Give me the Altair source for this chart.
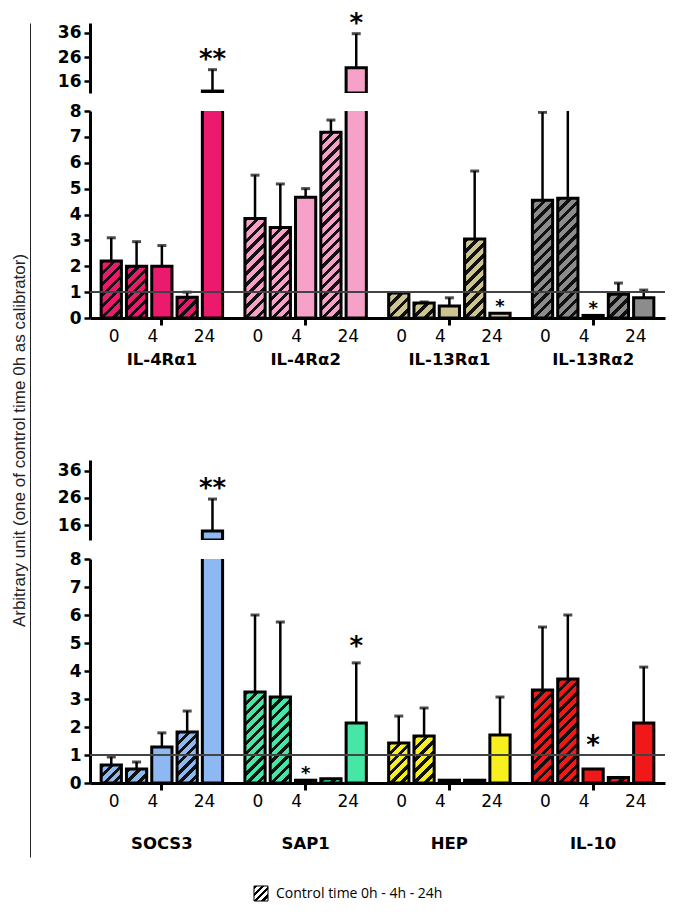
import altair as alt

# ---------------- data ----------------
SLOTS = ["0h ctrl", "4h ctrl", "4h", "24h ctrl", "24h"]
HATCHED = [True, True, False, True, False]

TOP_GROUPS = ["IL-4Rα1", "IL-4Rα2", "IL-13Rα1", "IL-13Rα2"]
TOP_COLORS = ["#EB1A6D", "#F6A2C8", "#CEC48F", "#8C8C8C"]
TOP_VALUES = [
    [2.2, 2.0, 2.0, 0.8, 12.0],
    [3.85, 3.5, 4.67, 7.18, 21.6],
    [0.97, 0.58, 0.46, 3.05, 0.18],
    [4.55, 4.63, 0.1, 0.92, 0.78],
]
TOP_ERR_TOP = [
    [3.1, 2.95, 2.8, 1.0, 20.8],
    [5.52, 5.18, 5.0, 7.65, 35.6],
    [None, 0.62, 0.78, 5.68, None],
    [7.95, 9.0, None, 1.35, 1.08],
]
TOP_SIG = [
    ["", "", "", "", "**"],
    ["", "", "", "", "*"],
    ["", "", "", "", "*"],
    ["", "", "*", "", ""],
]

BOT_GROUPS = ["SOCS3", "SAP1", "HEP", "IL-10"]
BOT_COLORS = ["#8DB8F2", "#45E6A6", "#F8F01E", "#F01818"]
BOT_VALUES = [
    [0.64, 0.5, 1.29, 1.82, 13.8],
    [3.25, 3.07, 0.1, 0.15, 2.14],
    [1.43, 1.68, 0.1, 0.1, 1.71],
    [3.32, 3.71, 0.5, 0.2, 2.14],
]
BOT_ERR_TOP = [
    [0.93, 0.75, 1.79, 2.57, 25.6],
    [6.0, 5.75, None, None, 4.29],
    [2.39, 2.68, None, None, 3.07],
    [5.57, 6.0, None, None, 4.14],
]
BOT_SIG = [
    ["", "", "", "", "**"],
    ["", "", "*", "", "*"],
    ["", "", "", "", ""],
    ["", "", "*", "", ""],
]

TIME_TICKS = [("0", "0h ctrl", 3), ("4", "4h", -9), ("24", "24h", -8)]
Y_TITLE = "Arbitrary unit (one of control time 0h as calibrator)"
LEGEND_TEXT = "Control time 0h - 4h - 24h"

# ---------------- layout ----------------
W = 575
PAD_IN, PAD_OUT = 0.12, 0.06
OFF_IN, OFF_OUT = 0.2, 0.1
step = W / (len(TOP_GROUPS) - PAD_IN + 2 * PAD_OUT)
band = step * (1 - PAD_IN)
step2 = band / (len(SLOTS) - OFF_IN + 2 * OFF_OUT)
BAR_W = step2 * (1 - OFF_IN)
EXT = 36
FONT = "DejaVu Sans"


def hatch(color, w, h, period, ink="#111111", frac=0.42):
    h = max(float(h), 1.0)
    L = w + h
    m = L / (w * w + h * h)
    n = max(1, int(round(L / period)))
    stops = []
    for k in range(n):
        a = k / n
        b = min((k + frac) / n, 1.0)
        c = min((k + 1) / n, 1.0)
        stops += [
            {"offset": a, "color": ink},
            {"offset": b, "color": ink},
            {"offset": b, "color": color},
            {"offset": c, "color": color},
        ]
    return {"gradient": "linear", "x1": 0, "y1": 0, "x2": w * m, "y2": h * m, "stops": stops}


def records(groups, colors, values, errs, sigs, ppu):
    recs = []
    for gi, g in enumerate(groups):
        for si, s in enumerate(SLOTS):
            v = values[gi][si]
            e = errs[gi][si]
            paint = hatch(colors[gi], BAR_W, v * ppu, 10.5) if HATCHED[si] else colors[gi]
            recs.append({
                "g": g, "s": s, "v": v,
                "e": e if e is not None else v,
                "has_e": e is not None,
                "top": e if e is not None else v,
                "sig": sigs[gi][si],
                "paint": paint,
            })
    return recs


def xenc(groups, axis):
    return alt.X("g:N", sort=groups,
                 scale=alt.Scale(domain=groups, paddingInner=PAD_IN, paddingOuter=PAD_OUT),
                 axis=axis)


XOFF = alt.XOffset("s:N", sort=SLOTS,
                   scale=alt.Scale(domain=SLOTS, paddingInner=OFF_IN, paddingOuter=OFF_OUT))


def yaxis(values):
    return alt.Axis(values=values, format="d", title=None, grid=False, tickSize=6, tickWidth=2.5,
                    tickColor="black", domainColor="black", domainWidth=3, labelFont=FONT,
                    labelFontWeight="bold", labelFontSize=17, labelColor="black", labelPadding=3,
                    labelOverlap=False, minExtent=EXT, maxExtent=EXT)


def star_layers(base, groups, xax, yscale, yax, ycond, single_dy):
    specs = [
        ("datum.sig == '**'", 26, -2),
        ("datum.sig == '*' && datum.has_e", 26, single_dy),
        ("datum.sig == '*' && !datum.has_e && datum.v >= 0.3", 26, -15),
        ("datum.sig == '*' && !datum.has_e && datum.v < 0.3", 18, -1),
    ]
    out = []
    for cond, fs, dy in specs:
        out.append(
            base.transform_filter(cond + " && " + ycond)
            .mark_text(font=FONT, fontSize=fs, fontWeight="bold", baseline="alphabetic", dy=dy, color="black")
            .encode(x=xenc(groups, xax), xOffset=XOFF, y=alt.Y("top:Q", scale=yscale, axis=yax), text="sig:N")
        )
    return out


def panel(groups, colors, values, errs, sigs, lo_h, up_h, up_min, gap, label_pad, up_star_dy):
    ppu = lo_h / 8.0
    data = alt.Data(values=records(groups, colors, values, errs, sigs, ppu))
    base = alt.Chart(data)

    xax = alt.Axis(title=None, labelAngle=0, labelFont=FONT, labelFontWeight="bold", labelFontSize=16.5,
                   labelColor="black", labelPadding=label_pad, tickSize=7, tickWidth=3, tickColor="black",
                   domainColor="black", domainWidth=3, grid=False)
    ysc = alt.Scale(domain=[0, 8], nice=False, zero=True)
    yax = yaxis(list(range(9)))

    bars = base.mark_bar(clip=True, stroke="black", strokeWidth=3, aria=False).encode(
        x=xenc(groups, xax), xOffset=XOFF,
        y=alt.Y("v:Q", stack=None, scale=ysc, axis=yax),
        fill=alt.Fill("paint:N", scale=None),
    )
    err = base.transform_filter("datum.has_e").mark_rule(clip=True, color="black", strokeWidth=2.5).encode(
        x=xenc(groups, xax), xOffset=XOFF, y=alt.Y("v:Q", scale=ysc, axis=yax), y2="e:Q")
    cap = base.transform_filter("datum.has_e && datum.e <= 8").mark_tick(
        clip=True, color="black", thickness=3, size=9).encode(
        x=xenc(groups, xax), xOffset=XOFF, y=alt.Y("e:Q", scale=ysc, axis=yax))
    ref = base.mark_rule(color="#444444", strokeWidth=1).encode(y=alt.Y(datum=1, scale=ysc, axis=yax))
    times = []
    for lab, slot, dx in TIME_TICKS:
        times.append(
            base.transform_filter(alt.datum.s == slot).mark_text(
                font=FONT, fontSize=17, color="black", baseline="middle", dx=dx)
            .encode(x=xenc(groups, xax), xOffset=XOFF, y=alt.value(lo_h + 19), text=alt.value(lab))
        )
    lower = alt.layer(bars, err, cap, ref, *star_layers(base, groups, xax, ysc, yax, "datum.top <= 8", -8),
                      *times).properties(width=W, height=lo_h)

    usc = alt.Scale(domain=[up_min, 40], nice=False, zero=False)
    uax = yaxis([16, 26, 36])
    big = base.transform_filter("datum.v > 8")
    ubars = big.mark_bar(clip=True, stroke="black", strokeWidth=3, aria=False).encode(
        x=xenc(groups, None), xOffset=XOFF,
        y=alt.Y("v:Q", stack=None, scale=usc, axis=uax),
        fill=alt.Fill("paint:N", scale=None),
    )
    uerr = big.mark_rule(clip=True, color="black", strokeWidth=2.5).encode(
        x=xenc(groups, None), xOffset=XOFF, y=alt.Y("v:Q", scale=usc, axis=uax), y2="e:Q")
    ucap = big.mark_tick(color="black", thickness=3, size=9).encode(
        x=xenc(groups, None), xOffset=XOFF, y=alt.Y("e:Q", scale=usc, axis=uax))
    upper = alt.layer(ubars, uerr, ucap,
                      *star_layers(big, groups, None, usc, uax, "datum.v > 8", up_star_dy)).properties(
        width=W, height=up_h)

    return alt.vconcat(upper, lower, spacing=gap).resolve_scale(x="independent", y="independent")


top = panel(TOP_GROUPS, TOP_COLORS, TOP_VALUES, TOP_ERR_TOP, TOP_SIG, 207, 70, 11.2, 9, 26, -2)
bot = panel(BOT_GROUPS, BOT_COLORS, BOT_VALUES, BOT_ERR_TOP, BOT_SIG, 224, 80, 10.5, 10, 45, -8)

legend_data = alt.Data(values=[{"t": LEGEND_TEXT}])
lg_base = alt.Chart(legend_data)
swatch = lg_base.mark_rect(stroke="black", strokeWidth=1, fill=hatch("white", 14, 15, 7, ink="black", frac=0.45)).encode(
    x=alt.value(164), x2=alt.value(178), y=alt.value(0), y2=alt.value(15))
ltext = lg_base.mark_text(font="Open Sans", fontSize=14, color="black", align="left", baseline="middle").encode(
    x=alt.value(186), y=alt.value(8), text="t:N")
legend = alt.layer(swatch, ltext).properties(width=W, height=16)

panels = alt.vconcat(top, bot, spacing=92).resolve_scale(x="independent", y="independent")
main = alt.vconcat(panels, legend, spacing=33).resolve_scale(x="independent", y="independent")

left = alt.Chart(alt.Data(values=[{"v": 0.5}])).mark_point(opacity=0, size=1).encode(
    y=alt.Y("v:Q", scale=alt.Scale(domain=[0, 1]),
            axis=alt.Axis(title=Y_TITLE, labels=False, ticks=False, grid=False, domainColor="#222222",
                          domainWidth=1, titleFont="Liberation Sans", titleFontSize=17,
                          titleFontWeight="normal", titleColor="#222222", titlePadding=2))
).properties(width=1, height=834)

chart = alt.hconcat(left, main, spacing=23).resolve_scale(y="independent").properties(
    padding={"left": 2, "top": 2, "right": 0, "bottom": 0}, background="white"
).configure_view(stroke=None)

chart.save("out.html", embed_options={"renderer": "svg", "actions": False})
